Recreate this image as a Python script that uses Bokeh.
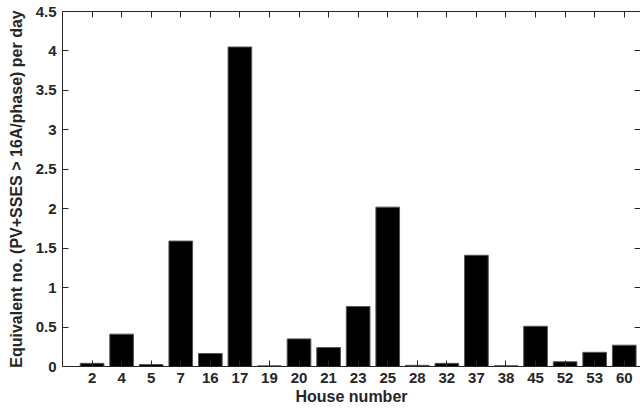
from bokeh.plotting import figure
from bokeh.models import Range1d, FixedTicker, LinearAxis
from bokeh.embed import file_html
from bokeh.resources import INLINE

houses = ["2", "4", "5", "7", "16", "17", "19", "20", "21", "23", "25", "28", "32", "37", "38", "45", "52", "53", "60"]
values = [0.04, 0.41, 0.025, 1.59, 0.165, 4.05, 0.008, 0.35, 0.24, 0.76, 2.02, 0.015, 0.04, 1.41, 0.01, 0.51, 0.06, 0.18, 0.27]
y_ticks = [0, 0.5, 1, 1.5, 2, 2.5, 3, 3.5, 4, 4.5]
y_tick_labels = ["0", "0.5", "1", "1.5", "2", "2.5", "3", "3.5", "4", "4.5"]

xs = list(range(1, len(houses) + 1))
FONT = "Liberation Sans"
GREY = "#262626"

p = figure(width=640, height=409, output_backend="svg", toolbar_location=None,
           x_range=Range1d(0, 19.55), y_range=Range1d(0, 4.5),
           min_border_left=62, min_border_right=0, min_border_top=11, min_border_bottom=43)
p.outline_line_color = None
p.grid.grid_line_color = None
p.background_fill_color = "white"

p.vbar(x=xs, top=values, width=0.8, fill_color="black", line_color="#555555", line_width=1)

def style(ax):
    ax.major_tick_in = 6
    ax.major_tick_out = 0
    ax.minor_tick_in = 0
    ax.minor_tick_out = 0
    ax.axis_line_color = GREY
    ax.major_tick_line_color = GREY
    ax.major_label_text_font = FONT
    ax.major_label_text_font_style = "bold"
    ax.major_label_text_font_size = "15px"
    ax.major_label_text_color = GREY
    ax.axis_label_text_font = FONT
    ax.axis_label_text_font_style = "bold"
    ax.axis_label_text_font_size = "16px"
    ax.axis_label_text_color = GREY

xa = p.xaxis[0]
xa.ticker = FixedTicker(ticks=xs)
xa.major_label_overrides = {x: h for x, h in zip(xs, houses)}
style(xa)
xa.axis_label = "House number"
xa.major_label_standoff = 6
xa.axis_label_standoff = 2

ya = p.yaxis[0]
ya.ticker = FixedTicker(ticks=y_ticks)
ya.major_label_overrides = {t: l for t, l in zip(y_ticks, y_tick_labels)}
style(ya)
ya.axis_label = "Equivalent no. (PV+SSES > 16A/phase) per day"
ya.major_label_standoff = 6
ya.axis_label_standoff = 8

top = LinearAxis(ticker=FixedTicker(ticks=xs))
style(top)
top.major_label_text_font_size = "0px"
top.major_label_standoff = 0
top.major_label_overrides = {x: "" for x in xs}
p.add_layout(top, "above")

right = LinearAxis(ticker=FixedTicker(ticks=y_ticks))
style(right)
right.axis_line_color = None
right.major_label_text_font_size = "0px"
right.major_label_standoff = 0
right.major_label_overrides = {t: "" for t in y_ticks}
p.add_layout(right, "right")

open("out.html", "w").write(file_html(p, INLINE))
